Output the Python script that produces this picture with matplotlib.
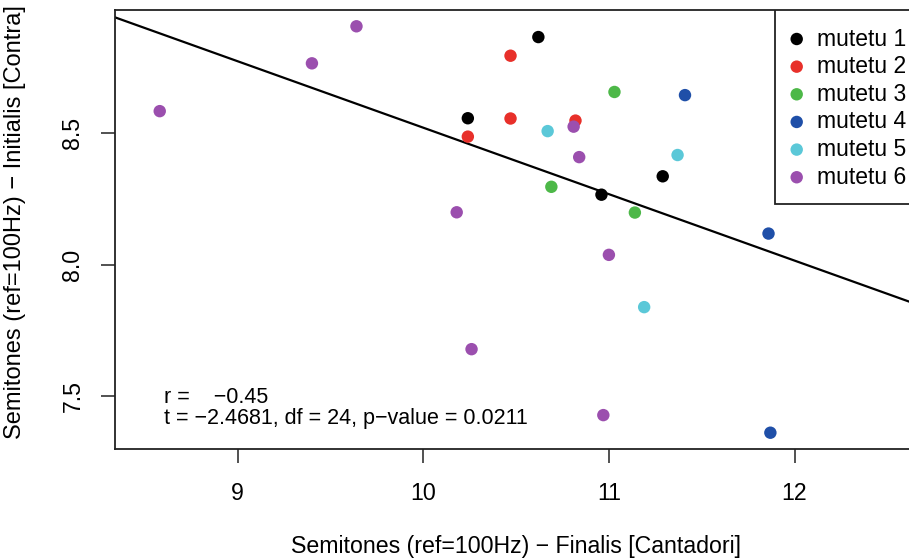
import matplotlib
matplotlib.use("Agg")
import matplotlib.pyplot as plt
from matplotlib.patches import Rectangle

plt.rcParams['font.family'] = ['Liberation Sans', 'DejaVu Sans']

# ---- data ----
groups = ["mutetu 1", "mutetu 2", "mutetu 3", "mutetu 4", "mutetu 5", "mutetu 6"]
colors = ["#000000", "#E8302A", "#4DB848", "#1F4FA8", "#5BC8D8", "#9B4FAE"]

x_m1 = [10.24, 10.62, 11.29, 10.96]
y_m1 = [8.557, 8.866, 8.336, 8.266]
x_m2 = [10.24, 10.47, 10.47, 10.82]
y_m2 = [8.487, 8.795, 8.556, 8.548]
x_m3 = [11.03, 10.69, 11.14]
y_m3 = [8.657, 8.296, 8.198]
x_m4 = [11.41, 11.86, 11.87]
y_m4 = [8.645, 8.118, 7.360]
x_m5 = [10.67, 11.37, 11.19]
y_m5 = [8.508, 8.417, 7.838]
x_m6 = [8.58, 9.40, 9.64, 10.18, 10.81, 10.84, 11.00, 10.26, 10.97]
y_m6 = [8.584, 8.766, 8.907, 8.199, 8.525, 8.409, 8.037, 7.678, 7.427]

xs = [x_m1, x_m2, x_m3, x_m4, x_m5, x_m6]
ys = [y_m1, y_m2, y_m3, y_m4, y_m5, y_m6]

# regression line (abline)
intercept = 11.050
slope = -0.2529

xticks = [9, 10, 11, 12]
yticks = [7.5, 8.0, 8.5]
stat_lines = ["r =    \u22120.45", "t = \u22122.4681, df = 24, p\u2212value = 0.0211"]
xlabel = "Semitones (ref=100Hz) \u2212 Finalis [Cantadori]"
ylabel = "Semitones (ref=100Hz) \u2212 Initialis [Contra]"

# ---- figure ----
W, H = 909, 559
fig = plt.figure(figsize=(W / 100, H / 100), dpi=100)
L, R, T, B = 115, 917, 10, 449
ax = fig.add_axes([L / W, 1 - B / H, (R - L) / W, (B - T) / H])
ax.set_xlim(8.339, 12.660)
ax.set_ylim(7.298, 8.969)

def px(xp, yp):
    return ((xp - L) / (R - L), (B - yp) / (B - T))

for xv, yv, c in zip(xs, ys, colors):
    ax.scatter(xv, yv, s=80, color=c, edgecolors='none', zorder=3)

ax.axline((0, intercept), slope=slope, color='black', lw=1.6, zorder=2)

for s in ax.spines.values():
    s.set_color('#222222')
    s.set_linewidth(1.3)

ax.set_xticks(xticks)
ax.set_xticklabels([str(t) for t in xticks])
ax.set_yticks(yticks)
ax.set_yticklabels([f"{t:.1f}" for t in yticks], rotation=90, va='center')
ax.tick_params(axis='both', length=10, width=1.1, color='#222222', labelsize=16.7)
ax.tick_params(axis='x', pad=14)
ax.tick_params(axis='y', pad=12)

fig.text(516 / W, 1 - 547 / H, xlabel, ha='center', va='center', fontsize=16.7)
fig.text(15 / W, 1 - 222 / H, ylabel, ha='center', va='center', rotation=90, fontsize=17)

# statistics text (two lines, one text object)
ax.text(*px(164, 424), "\n".join(stat_lines), transform=ax.transAxes, fontsize=15.5,
        va='baseline', ha='left', linespacing=0.98)

# legend (drawn manually, R-style topright)
x0, y0 = px(775, 204)
x1, y1 = px(R, T)
ax.add_patch(Rectangle((x0, y0), x1 - x0, y1 - y0, transform=ax.transAxes,
                       facecolor='white', edgecolor='#222222', lw=1.3, zorder=4))
for i, (g, c) in enumerate(zip(groups, colors)):
    yy = 39 + i * 27.65
    ax.scatter(*px(796.7, yy), s=80, color=c, edgecolors='none', transform=ax.transAxes,
               zorder=5, clip_on=False)
    ax.text(*px(817, yy), g, transform=ax.transAxes, fontsize=16.5, va='center', ha='left', zorder=5)

fig.savefig("out.png", dpi=100)
